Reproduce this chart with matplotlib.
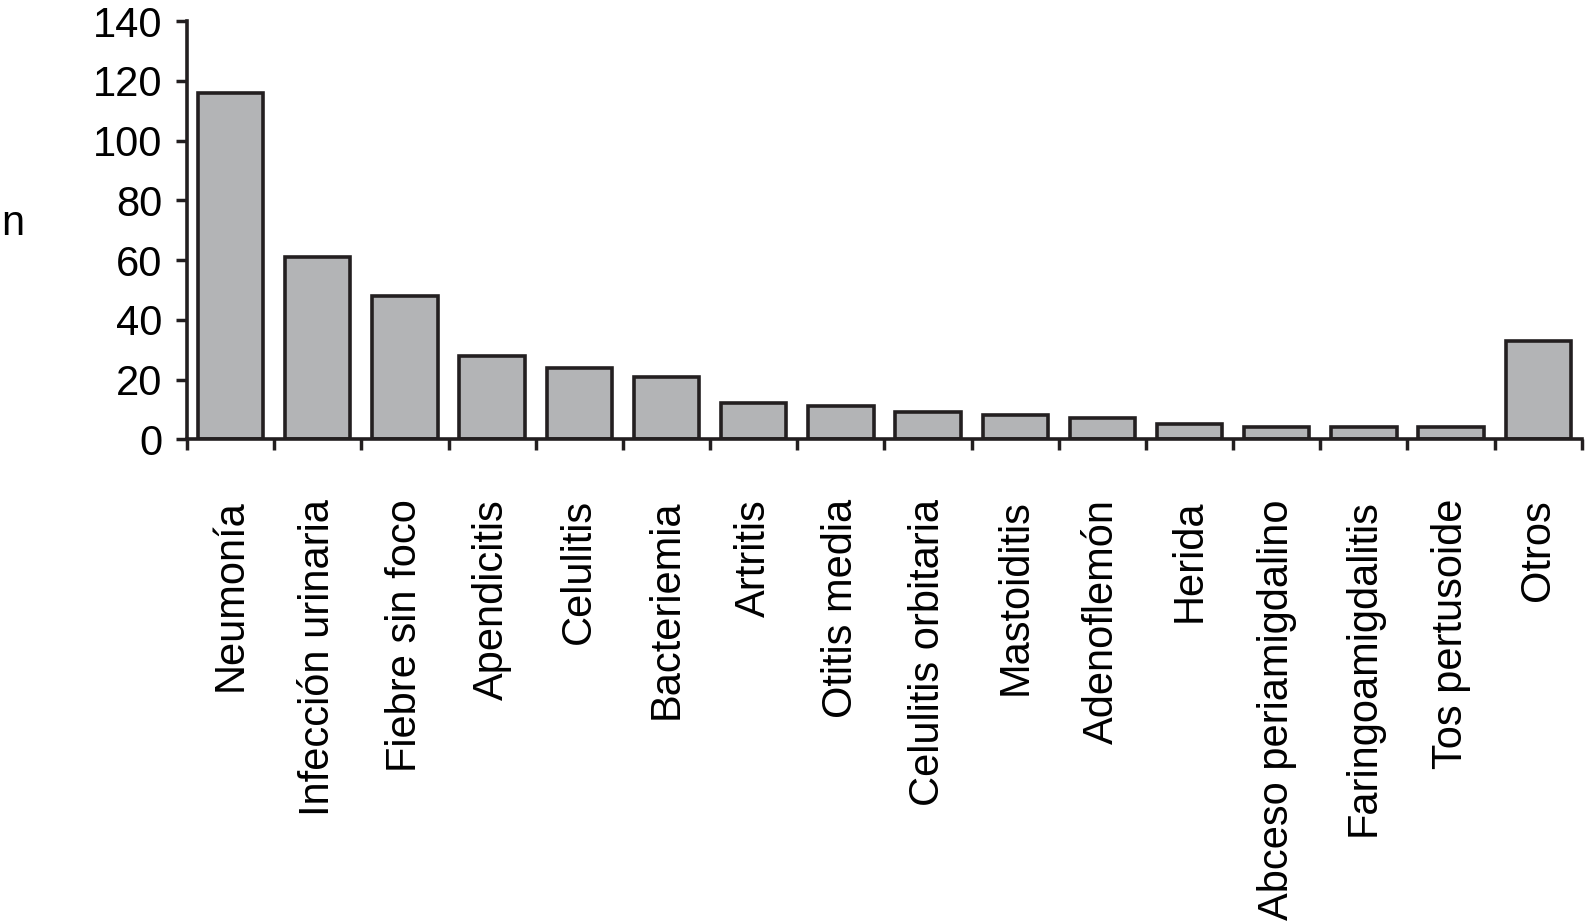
import numpy as np
import matplotlib.pyplot as plt
from matplotlib.ticker import FixedLocator

categories = [
    "Neumonía", "Infección urinaria", "Fiebre sin foco", "Apendicitis",
    "Celulitis", "Bacteriemia", "Artritis", "Otitis media",
    "Celulitis orbitaria", "Mastoiditis", "Adenoflemón", "Herida",
    "Abceso periamigdalino", "Faringoamigdalitis", "Tos pertusoide", "Otros",
]
counts = [116, 61, 48, 28, 24, 21, 12, 11, 9, 8, 7, 5, 4, 4, 4, 33]
yticks = [0, 20, 40, 60, 80, 100, 120, 140]

plt.rcParams["font.family"] = ["Liberation Sans", "DejaVu Sans"]

fig = plt.figure(figsize=(15.85, 9.21), dpi=100)
ax = fig.add_axes([0.118, 0.523, 0.880, 0.454])

x = np.arange(len(categories))
ax.bar(x, counts, width=0.75, color="#b3b4b6", edgecolor="#231f20", linewidth=2.6, zorder=2)

ax.set_xlim(-0.5, len(categories) - 0.5)
ax.set_ylim(0, 140)
ax.set_yticks(yticks)
ax.set_xticks(x)
ax.set_xticklabels(categories, rotation=90, fontsize=30)
ax.xaxis.set_minor_locator(FixedLocator(np.arange(len(categories) + 1) - 0.5))
ax.tick_params(axis="x", which="major", length=0, pad=43)
ax.tick_params(axis="x", which="minor", length=8, width=2.5, color="#231f20", direction="out")
ax.tick_params(axis="y", length=8, width=2.5, color="#231f20", labelsize=30, pad=10)

for side in ("top", "right"):
    ax.spines[side].set_visible(False)
for side in ("left", "bottom"):
    ax.spines[side].set_linewidth(2.6)
    ax.spines[side].set_color("#231f20")

fig.text(0.001, 0.757, "n", fontsize=30, ha="left", va="center")

fig.savefig("out.png", dpi=100)
